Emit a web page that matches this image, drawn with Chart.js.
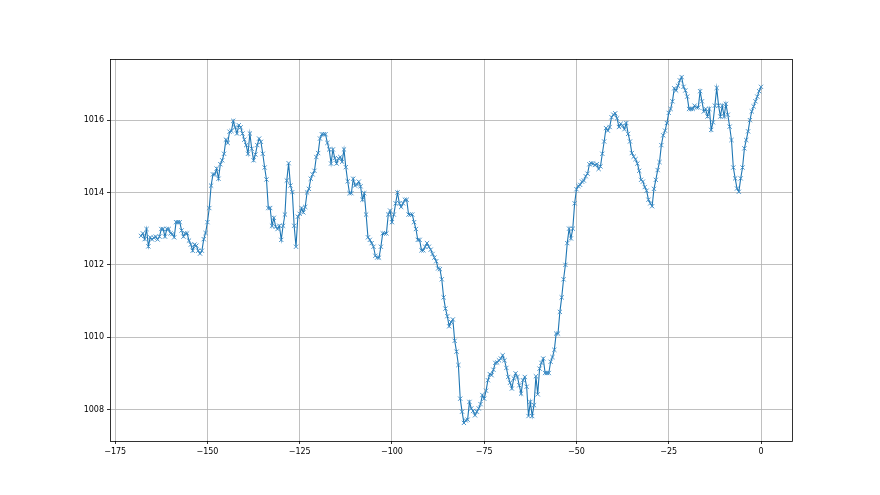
<!DOCTYPE html>
<html>
<head>
<meta charset="utf-8">
<script src="https://cdn.jsdelivr.net/npm/chart.js@4.4.1/dist/chart.umd.min.js"></script>
<style>
  html, body { margin: 0; padding: 0; background: #fff; }
  #wrap { width: 880px; height: 495px; position: relative; }
</style>
</head>
<body>
<div id="wrap"><canvas id="chart"></canvas></div>
<script>
// ── Data ─────────────────────────────────────────────────────────────────────
// half-hourly pressure readings (hPa), first reading at -168 h, last at 0 h
const START_HOUR = -168;
const STEP_HOURS = 0.5;
const pressure = [
    1012.8, 1012.87, 1012.71, 1012.99, 1012.51, 1012.76, 1012.7, 1012.75, 1012.78, 1012.7,
    1012.78, 1012.99, 1012.99, 1012.78, 1012.99, 1012.99, 1012.87, 1012.85, 1012.76, 1013.18,
    1013.18, 1013.18, 1012.95, 1012.78, 1012.87, 1012.87, 1012.67, 1012.56, 1012.39, 1012.56,
    1012.53, 1012.39, 1012.31, 1012.39, 1012.71, 1012.88, 1013.18, 1013.57, 1014.19, 1014.5,
    1014.5, 1014.66, 1014.38, 1014.78, 1014.89, 1015.07, 1015.46, 1015.37, 1015.68, 1015.7,
    1015.98, 1015.8, 1015.63, 1015.86, 1015.8, 1015.63, 1015.46, 1015.31, 1015.07, 1015.63,
    1015.21, 1014.89, 1015.05, 1015.31, 1015.49, 1015.4, 1015.07, 1014.69, 1014.36, 1013.57,
    1013.57, 1013.08, 1013.3, 1013.05, 1012.99, 1013.08, 1012.69, 1013.08, 1013.39, 1014.33,
    1014.81, 1014.19, 1014.01, 1013.08, 1012.5, 1013.33, 1013.41, 1013.57, 1013.45, 1013.6,
    1014.0, 1014.1, 1014.38, 1014.5, 1014.6, 1014.98, 1015.09, 1015.49, 1015.61, 1015.61,
    1015.61, 1015.37, 1015.19, 1014.8, 1015.19, 1014.95, 1014.8, 1014.94, 1014.98, 1014.85,
    1015.19, 1014.7, 1014.31, 1013.98, 1013.98, 1014.38, 1014.19, 1014.22, 1014.3, 1014.17,
    1013.8, 1013.98, 1013.39, 1012.76, 1012.69, 1012.6, 1012.5, 1012.25, 1012.2, 1012.2,
    1012.5, 1012.87, 1012.87, 1012.87, 1013.39, 1013.5, 1013.18, 1013.39, 1013.7, 1014.0,
    1013.7, 1013.6, 1013.7, 1013.8, 1013.8, 1013.39, 1013.39, 1013.39, 1013.18, 1012.99,
    1012.69, 1012.69, 1012.4, 1012.4, 1012.5, 1012.6, 1012.5, 1012.42, 1012.3, 1012.2,
    1012.1, 1011.9, 1011.88, 1011.6, 1011.1, 1010.79, 1010.58, 1010.3, 1010.42, 1010.49,
    1009.9, 1009.6, 1009.23, 1008.3, 1007.94, 1007.63, 1007.7, 1007.72, 1008.21, 1008.03,
    1007.96, 1007.84, 1007.94, 1008.03, 1008.15, 1008.4, 1008.3, 1008.52, 1008.81, 1008.98,
    1008.95, 1009.1, 1009.29, 1009.3, 1009.36, 1009.41, 1009.5, 1009.36, 1009.15, 1008.9,
    1008.74, 1008.58, 1008.86, 1009.0, 1008.9, 1008.67, 1008.44, 1008.81, 1008.9, 1008.63,
    1007.82, 1008.21, 1007.82, 1008.12, 1008.92, 1008.42, 1009.13, 1009.29, 1009.41, 1009.01,
    1009.01, 1009.01, 1009.32, 1009.45, 1009.65, 1010.1, 1010.1, 1010.7, 1011.1, 1011.6,
    1012.0, 1012.6, 1013.0, 1012.73, 1013.0, 1013.7, 1014.09, 1014.18, 1014.21, 1014.3,
    1014.33, 1014.45, 1014.52, 1014.78, 1014.81, 1014.8, 1014.76, 1014.78, 1014.65, 1014.72,
    1015.07, 1015.41, 1015.78, 1015.71, 1015.81, 1016.08, 1016.15, 1016.19, 1016.05, 1015.81,
    1015.9, 1015.85, 1015.75, 1015.92, 1015.62, 1015.41, 1015.09, 1014.99, 1014.92, 1014.8,
    1014.6, 1014.35, 1014.3, 1014.15, 1014.05, 1013.8, 1013.7, 1013.62, 1014.1, 1014.35,
    1014.62, 1014.84, 1015.31, 1015.58, 1015.71, 1015.92, 1016.2, 1016.31, 1016.52, 1016.88,
    1016.82, 1016.95, 1017.1, 1017.19, 1016.92, 1016.82, 1016.65, 1016.31, 1016.31, 1016.31,
    1016.4, 1016.35, 1016.35, 1016.8, 1016.52, 1016.24, 1016.31, 1016.1, 1016.31, 1015.73,
    1015.94, 1016.4, 1016.89, 1016.4, 1016.1, 1016.4, 1016.1, 1016.45, 1016.15, 1015.82,
    1015.45, 1014.69, 1014.39, 1014.11, 1014.02, 1014.39, 1014.69, 1015.22, 1015.45, 1015.69,
    1016.0, 1016.24, 1016.38, 1016.52, 1016.65, 1016.8, 1016.92
];
const xTicks = [-175, -150, -125, -100, -75, -50, -25, 0];
const yTicks = [1008, 1010, 1012, 1014, 1016];

const points = pressure.map((p, i) => ({ x: START_HOUR + i * STEP_HOURS, y: p }));

// ── Frame around the plot area (matplotlib style spines) ─────────────────────
const frame = {
    id: 'frame',
    afterDraw(c) {
        const a = c.chartArea, g = c.ctx;
        g.save();
        g.strokeStyle = '#000';
        g.lineWidth = 0.8;
        g.strokeRect(a.left + 0.5, a.top + 0.5, a.right - a.left, a.bottom - a.top);
        g.restore();
    }
};

const minus = v => String(v).replace('-', '\u2212');
const font = { family: 'DejaVu Sans', size: 8 };

new Chart(document.getElementById('chart'), {
    type: 'line',
    data: {
        datasets: [{
            data: points,
            borderColor: '#1f77b4',
            borderWidth: 1.1,
            pointStyle: 'crossRot',
            pointRadius: 3,
            pointBorderWidth: 0.9,
            pointBorderColor: '#3a8ac4',
            pointBackgroundColor: '#3a8ac4',
            tension: 0,
            fill: false
        }]
    },
    options: {
        responsive: true,
        maintainAspectRatio: false,
        animation: false,
        layout: { padding: { left: 0, top: 59, right: 88, bottom: 0 } },
        plugins: { legend: { display: false }, tooltip: { enabled: false } },
        scales: {
            x: {
                type: 'linear',
                min: -176.4, max: 8.4,
                afterBuildTicks: s => { s.ticks = xTicks.map(v => ({ value: v })); },
                afterFit: s => { s.height = 54; },
                border: { display: false },
                grid: { color: '#b0b0b0', lineWidth: 0.8, tickColor: '#000', tickLength: 3 },
                ticks: { color: '#000', font, padding: 3, maxRotation: 0, callback: minus }
            },
            y: {
                min: 1007.13, max: 1017.69,
                afterBuildTicks: s => { s.ticks = yTicks.map(v => ({ value: v })); },
                afterFit: s => { s.width = 110; },
                border: { display: false },
                grid: { color: '#b0b0b0', lineWidth: 0.8, tickColor: '#000', tickLength: 3 },
                ticks: { color: '#000', font, padding: 3, callback: minus }
            }
        }
    },
    plugins: [frame]
});
</script>
</body>
</html>
